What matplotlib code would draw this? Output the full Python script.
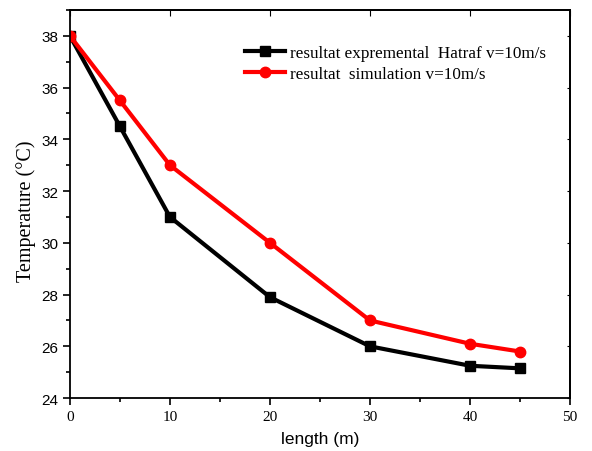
import matplotlib
matplotlib.use("Agg")
import matplotlib.pyplot as plt
from matplotlib.ticker import MultipleLocator

x = [0, 5, 10, 20, 30, 40, 45]
exp_vals = [38.0, 34.5, 31.0, 27.9, 26.0, 25.25, 25.15]
sim_vals = [38.0, 35.5, 33.0, 30.0, 27.0, 26.1, 25.8]
label_exp = "resultat expremental  Hatraf v=10m/s"
label_sim = "resultat  simulation v=10m/s"

fig = plt.figure(figsize=(5.92, 4.52), dpi=100)
ax = fig.add_axes([0.118, 0.117, 0.845, 0.859])

ax.plot(x, exp_vals, color="black", lw=3, marker="s", ms=6.5, label=label_exp)
ax.plot(x, sim_vals, color="red", lw=3, marker="o", ms=7.5, label=label_sim)

ax.set_xlim(0, 50)
ax.set_ylim(24, 39)
ax.xaxis.set_major_locator(MultipleLocator(10))
ax.xaxis.set_minor_locator(MultipleLocator(5))
ax.yaxis.set_major_locator(MultipleLocator(2))
ax.yaxis.set_minor_locator(MultipleLocator(1))
ax.tick_params(which="both", direction="out", top=False, right=False)
ax.tick_params(which="major", length=5, width=1.2)
ax.tick_params(which="minor", length=3, width=1.2)

secx = ax.secondary_xaxis("top")
secx.xaxis.set_major_locator(MultipleLocator(10))
secx.tick_params(direction="in", length=4, labeltop=False)
secy = ax.secondary_yaxis("right")
secy.yaxis.set_major_locator(MultipleLocator(2))
secy.tick_params(direction="in", length=2, width=0.8, labelright=False)
for s in ax.spines.values():
    s.set_linewidth(1.3)
secx.spines["top"].set_linewidth(1.3)
secy.spines["right"].set_linewidth(1.3)

for lbl in ax.get_xticklabels():
    lbl.set_family("Liberation Serif")
    lbl.set_fontsize(11)
for lbl in ax.get_yticklabels():
    lbl.set_family("Liberation Sans")
    lbl.set_fontsize(11)

ax.set_xlabel("length (m)", family="Liberation Sans", fontsize=12.5, labelpad=6)
ax.set_ylabel("Temperature (°C)", family="Liberation Serif", fontsize=14.5)
ax.yaxis.set_label_coords(-0.067, 0.485)

leg = ax.legend(loc="upper right", bbox_to_anchor=(0.982, 0.95), frameon=False,
                prop={"family": "Liberation Serif", "size": 12.3},
                handlelength=2.3, handletextpad=0.3, labelspacing=0.3)

fig.savefig("out.png", dpi=100)
